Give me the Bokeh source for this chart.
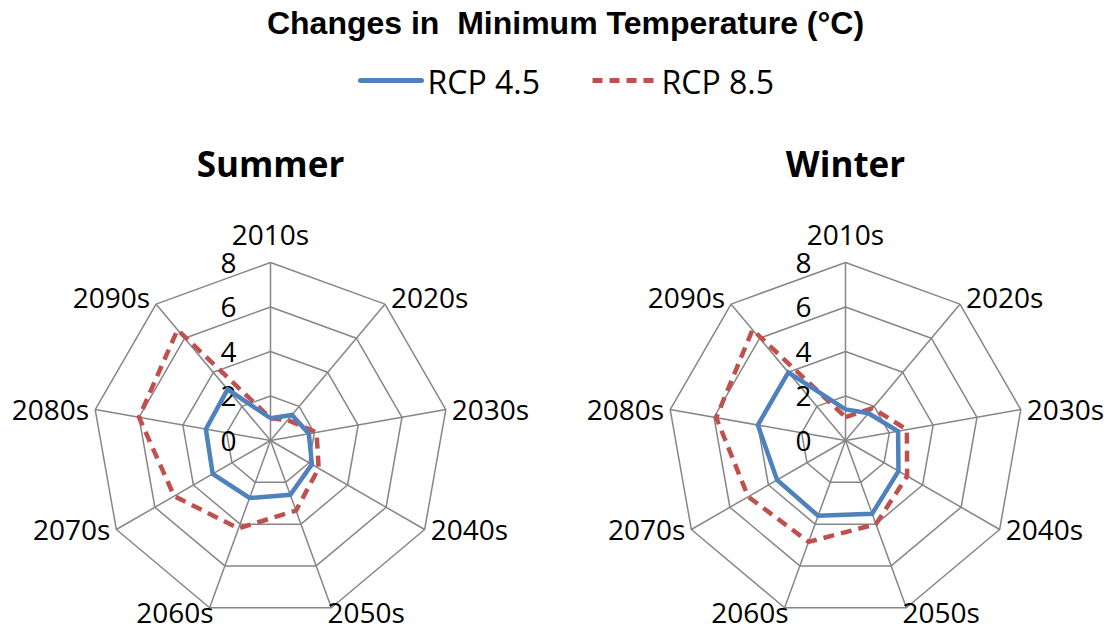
import math
from bokeh.plotting import figure
from bokeh.models import Range1d
from bokeh.core.properties import value
from bokeh.embed import file_html
from bokeh.resources import INLINE

categories = ["2010s", "2020s", "2030s", "2040s", "2050s", "2060s", "2070s", "2080s", "2090s"]
ticks = [0, 2, 4, 6, 8]
tick_labels = ["0", "2", "4", "6", "8"]

summer_rcp45 = [1.0, 1.5, 1.75, 2.15, 2.6, 2.75, 3.0, 2.95, 3.0]
summer_rcp85 = [1.0, 1.2, 2.1, 2.5, 3.35, 4.2, 5.0, 6.0, 6.5]
winter_rcp45 = [1.4, 1.6, 2.4, 2.75, 3.5, 3.6, 3.55, 4.0, 4.0]
winter_rcp85 = [1.05, 1.9, 2.8, 3.2, 4.0, 4.85, 5.05, 5.9, 6.5]

W, H = 1113, 636
p = figure(width=W, height=H, output_backend="svg", toolbar_location=None,
           x_range=Range1d(0, W), y_range=Range1d(H, 0),
           min_border=0, outline_line_color=None)
p.axis.visible = False
p.grid.visible = False
p.background_fill_color = "white"
p.border_fill_color = "white"

RMAX = 8.0
RPX = 178.0
SCALE = RPX / RMAX
GRID = "#868686"
BLUE = "#4F81BD"
RED = "#C0504D"
LABEL_FONT = "Open Sans"

n = len(categories)
angles = [2 * math.pi * i / n for i in range(n)]


def pt(cx, cy, r, a):
    return cx + r * SCALE * math.sin(a), cy - r * SCALE * math.cos(a)


def radar(cx, cy, title, s45, s85):
    # rings
    for t in ticks[1:]:
        xs, ys = [], []
        for a in angles + [angles[0]]:
            x, y = pt(cx, cy, t, a)
            xs.append(x); ys.append(y)
        p.line(xs, ys, line_color=GRID, line_width=1.5)
    # spokes
    for a in angles:
        x, y = pt(cx, cy, RMAX, a)
        p.line([cx, x], [cy, y], line_color=GRID, line_width=1.5)
    # category labels
    for lab, a in zip(categories, angles):
        x, y = pt(cx, cy, RMAX, a)
        s, c = math.sin(a), math.cos(a)
        if abs(s) < 0.1:
            align, base = "center", "middle"
            y -= 29
        elif s > 0:
            align = "left"
            x += 6
            if c < -0.8:
                base = "middle"; x -= 10; y += 4
            elif c > 0.6:
                base = "middle"; y -= 7
            else:
                base = "middle"; y -= 1
        else:
            align = "right"
            x -= 6
            if c < -0.8:
                base = "middle"; x += 10; y += 4
            elif c > 0.6:
                base = "middle"; y -= 7
            else:
                base = "middle"; y -= 1
        p.text(x=[x], y=[y], text=[lab], text_align=align, text_baseline=base,
               text_font=value(LABEL_FONT), text_font_size="28px", text_color="black")
    # tick labels
    for t, tl in zip(ticks, tick_labels):
        x, y = pt(cx, cy, t, 0)
        p.text(x=[x - 34], y=[y], text=[tl], text_align="right", text_baseline="middle",
               text_font=value(LABEL_FONT), text_font_size="28px", text_color="black")
    # series
    for vals, col, dash in ((s85, RED, "11 7"), (s45, BLUE, "solid")):
        xs, ys = [], []
        for v, a in zip(vals + [vals[0]], angles + [angles[0]]):
            x, y = pt(cx, cy, v, a)
            xs.append(x); ys.append(y)
        p.line(xs, ys, line_color=col, line_width=4.5, line_dash=dash, line_join="miter")
    # subtitle
    p.text(x=[cx], y=[163], text=[title], text_align="center", text_baseline="middle",
           text_font=value(LABEL_FONT), text_font_style="bold", text_font_size="35px",
           text_color="black")


radar(270, 440, "Summer", summer_rcp45, summer_rcp85)
radar(845, 440, "Winter", winter_rcp45, winter_rcp85)

# overall title
p.text(x=[565], y=[22], text=["Changes in \u00a0Minimum Temperature (\u00b0C)"], text_align="center",
       text_baseline="middle", text_font=value("Liberation Sans"), text_font_style="bold",
       text_font_size="32px", text_color="black")

# legend
p.line([360, 421], [80, 80], line_color=BLUE, line_width=5, line_cap="round")
p.text(x=[427], y=[81], text=["RCP 4.5"], text_align="left", text_baseline="middle",
       text_font=value(LABEL_FONT), text_font_size="32px", text_color="black")
p.line([592, 655], [80, 80], line_color=RED, line_width=5, line_dash="10 7")
p.text(x=[661], y=[81], text=["RCP 8.5"], text_align="left", text_baseline="middle",
       text_font=value(LABEL_FONT), text_font_size="32px", text_color="black")

open("out.html", "w").write(file_html(p, INLINE))
